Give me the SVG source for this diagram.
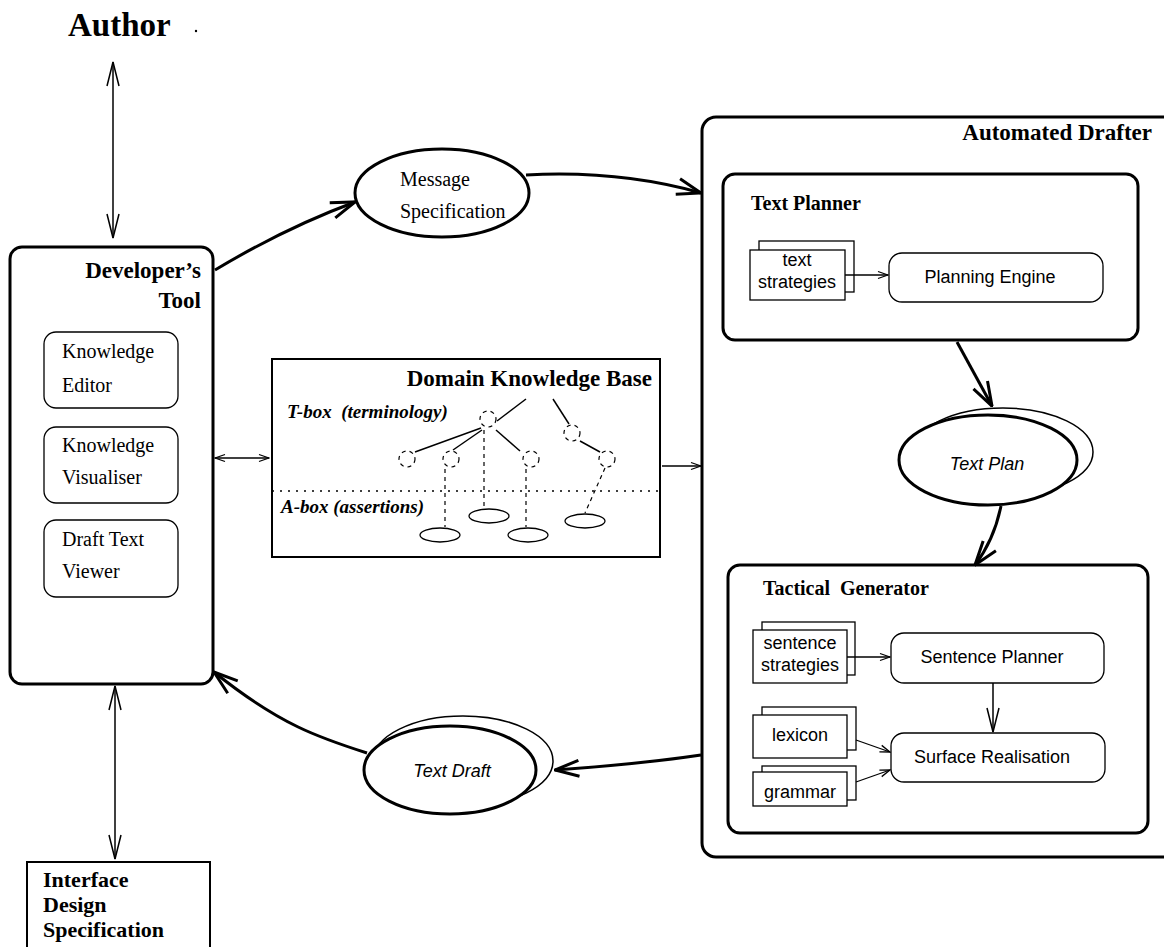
<svg xmlns="http://www.w3.org/2000/svg" width="1164" height="947" viewBox="0 0 1164 947">
<style>
.bg{fill:#fff}
.box{fill:#fff;stroke:#000;stroke-width:3}
.thin{fill:#fff;stroke:#000;stroke-width:1.3}
.mid{fill:#fff;stroke:#000;stroke-width:2}
.serif{font-family:"Liberation Serif","Times New Roman",serif;fill:#000}
.sans{font-family:"Liberation Sans",Arial,sans-serif;fill:#000}
.b{font-weight:bold}
.i{font-style:italic}
.conn{fill:none;stroke:#000}
.heavy{stroke-width:3}
.light{stroke-width:1.3}
.dash{fill:none;stroke:#000;stroke-width:1.2;stroke-dasharray:4,4}
.solid{fill:none;stroke:#000;stroke-width:1.5}
</style>
<defs>
<marker id="vbig" viewBox="0 0 26 20" refX="25" refY="10" markerWidth="26" markerHeight="20" markerUnits="userSpaceOnUse" orient="auto-start-reverse">
<path d="M1,2 L25,10 L1,18" fill="none" stroke="#000" stroke-width="3"/>
</marker>
<marker id="vmed" viewBox="0 0 26 14" refX="25" refY="7" markerWidth="26" markerHeight="14" markerUnits="userSpaceOnUse" orient="auto-start-reverse">
<path d="M1,1 L25,7 L1,13" fill="none" stroke="#000" stroke-width="1.5"/>
</marker>
<marker id="vsmall" viewBox="0 0 12 10" refX="11" refY="5" markerWidth="12" markerHeight="10" markerUnits="userSpaceOnUse" orient="auto-start-reverse">
<path d="M1,1.5 L11,5 L1,8.5" fill="none" stroke="#000" stroke-width="1.3"/>
</marker>
</defs>
<rect class="bg" x="0" y="0" width="1164" height="947"/>

<g id="author">
<text class="serif b" x="68" y="36" font-size="33">Author</text>
<circle cx="196" cy="31" r="1.2" fill="#000"/>
</g>

<g id="developers-tool">
<rect class="box" x="10" y="247" width="203" height="437" rx="12"/>
<text class="serif b" x="201" y="278" font-size="23" text-anchor="end">Developer’s</text>
<text class="serif b" x="201" y="308" font-size="23" text-anchor="end">Tool</text>
</g>
<g id="knowledge-editor">
<rect class="thin" x="44" y="332" width="134" height="76" rx="12"/>
<text class="serif" x="62" y="358" font-size="20">Knowledge</text>
<text class="serif" x="62" y="392" font-size="20">Editor</text>
</g>
<g id="knowledge-visualiser">
<rect class="thin" x="44" y="427" width="134" height="76" rx="12"/>
<text class="serif" x="62" y="452" font-size="20">Knowledge</text>
<text class="serif" x="62" y="484" font-size="20">Visualiser</text>
</g>
<g id="draft-text-viewer">
<rect class="thin" x="44" y="520" width="134" height="77" rx="12"/>
<text class="serif" x="62" y="546" font-size="20">Draft Text</text>
<text class="serif" x="62" y="578" font-size="20">Viewer</text>
</g>

<g id="interface-design-spec">
<rect class="mid" x="27" y="862" width="183" height="110" stroke-width="1.5"/>
<text class="serif b" x="43" y="887" font-size="22">Interface</text>
<text class="serif b" x="43" y="912" font-size="22">Design</text>
<text class="serif b" x="43" y="937" font-size="22">Specification</text>
</g>

<g id="message-specification">
<ellipse class="box" cx="442" cy="193" rx="87" ry="44" stroke-width="2.5"/>
<text class="serif" x="400" y="186" font-size="20">Message</text>
<text class="serif" x="400" y="218" font-size="20">Specification</text>
</g>

<g id="domain-knowledge-base">
<rect class="mid" x="272" y="359" width="388" height="198"/>
<text class="serif b" x="652" y="386" font-size="23" text-anchor="end">Domain Knowledge Base</text>
<text class="serif b i" x="287" y="418" font-size="19" style="white-space:pre">T-box  (terminology)</text>
<line x1="272" y1="491" x2="660" y2="491" stroke="#000" stroke-width="1.3" stroke-dasharray="2,6"/>
<text class="serif b i" x="281" y="513" font-size="19">A-box (assertions)</text>
<!-- tree -->
<line class="solid" x1="497" y1="421" x2="526" y2="399"/>
<line class="solid" x1="553" y1="399" x2="569" y2="424"/>
<line class="solid" x1="481" y1="428" x2="415" y2="452"/>
<line class="solid" x1="482" y1="430" x2="453" y2="450"/>
<line class="solid" x1="496" y1="430" x2="520" y2="451"/>
<line class="solid" x1="580" y1="441" x2="600" y2="452"/>
<ellipse class="dash" cx="488" cy="419" rx="8" ry="8"/>
<ellipse class="dash" cx="572" cy="433" rx="8" ry="8"/>
<ellipse class="dash" cx="407" cy="459" rx="8" ry="8"/>
<ellipse class="dash" cx="451" cy="459" rx="8" ry="8"/>
<ellipse class="dash" cx="531" cy="459" rx="8" ry="8"/>
<ellipse class="dash" cx="607" cy="459" rx="8" ry="8"/>
<line class="dash" x1="484" y1="430" x2="484" y2="509"/>
<line class="dash" x1="445" y1="469" x2="445" y2="527"/>
<line class="dash" x1="526" y1="469" x2="526" y2="527"/>
<line class="dash" x1="605" y1="468" x2="585" y2="513"/>
<ellipse class="thin" cx="489" cy="516" rx="20" ry="7"/>
<ellipse class="thin" cx="440" cy="535" rx="20" ry="7"/>
<ellipse class="thin" cx="528" cy="535" rx="20" ry="7"/>
<ellipse class="thin" cx="585" cy="521" rx="20" ry="7"/>
</g>

<g id="automated-drafter">
<rect class="box" x="702" y="117" width="480" height="740" rx="14"/>
<text class="serif b" x="1152" y="140" font-size="23" text-anchor="end">Automated Drafter</text>
</g>

<g id="text-planner">
<rect class="box" x="723" y="174" width="415" height="166" rx="12"/>
<text class="serif b" x="751" y="210" font-size="20">Text Planner</text>
</g>
<g id="text-strategies">
<rect class="thin" x="759" y="241" width="95" height="51"/>
<rect class="thin" x="750" y="250" width="95" height="50"/>
<text class="sans" x="797" y="266" font-size="18" text-anchor="middle">text</text>
<text class="sans" x="797" y="288" font-size="18" text-anchor="middle">strategies</text>
</g>
<g id="planning-engine">
<rect class="thin" x="889" y="253" width="214" height="49" rx="13"/>
<text class="sans" x="990" y="283" font-size="18" text-anchor="middle">Planning Engine</text>
</g>

<g id="text-plan">
<ellipse cx="1003" cy="452" rx="90" ry="44" fill="none" stroke="#000" stroke-width="1.5"/>
<ellipse class="box" cx="988" cy="460" rx="89" ry="45"/>
<text class="sans i" x="987" y="470" font-size="18" text-anchor="middle">Text Plan</text>
</g>

<g id="tactical-generator">
<rect class="box" x="728" y="565" width="420" height="268" rx="12"/>
<text class="serif b" x="763" y="595" font-size="20" style="white-space:pre">Tactical  Generator</text>
</g>
<g id="sentence-strategies">
<rect class="thin" x="762" y="622" width="93" height="53"/>
<rect class="thin" x="753" y="630" width="94" height="53"/>
<text class="sans" x="800" y="649" font-size="18" text-anchor="middle">sentence</text>
<text class="sans" x="800" y="671" font-size="18" text-anchor="middle">strategies</text>
</g>
<g id="sentence-planner">
<rect class="thin" x="891" y="633" width="213" height="50" rx="13"/>
<text class="sans" x="992" y="663" font-size="18" text-anchor="middle">Sentence Planner</text>
</g>
<g id="lexicon">
<rect class="thin" x="762" y="707" width="94" height="43"/>
<rect class="thin" x="753" y="715" width="94" height="43"/>
<text class="sans" x="800" y="741" font-size="18" text-anchor="middle">lexicon</text>
</g>
<g id="grammar">
<rect class="thin" x="762" y="766" width="94" height="34"/>
<rect class="thin" x="753" y="772" width="94" height="34"/>
<text class="sans" x="800" y="798" font-size="18" text-anchor="middle">grammar</text>
</g>
<g id="surface-realisation">
<rect class="thin" x="891" y="733" width="214" height="49" rx="13"/>
<text class="sans" x="992" y="763" font-size="18" text-anchor="middle">Surface Realisation</text>
</g>

<g id="text-draft">
<ellipse cx="463" cy="761" rx="90" ry="45" fill="none" stroke="#000" stroke-width="1.5"/>
<ellipse class="box" cx="450" cy="770" rx="86" ry="44"/>
<text class="sans i" x="452" y="777" font-size="18" text-anchor="middle">Text Draft</text>
</g>

<g id="connectors">
<line class="conn" stroke-width="1.5" x1="113" y1="62" x2="113" y2="238" marker-start="url(#vmed)" marker-end="url(#vmed)"/>
<line class="conn" stroke-width="1.5" x1="115" y1="686" x2="115" y2="859" marker-start="url(#vmed)" marker-end="url(#vmed)"/>
<line class="conn light" x1="215" y1="458" x2="269" y2="458" marker-start="url(#vsmall)" marker-end="url(#vsmall)"/>
<line class="conn light" x1="662" y1="466" x2="701" y2="466" marker-end="url(#vsmall)"/>
<path class="conn heavy" d="M215,270 Q285,228 355,202" marker-end="url(#vbig)"/>
<path class="conn heavy" d="M526,175 Q620,170 701,193" marker-end="url(#vbig)"/>
<path class="conn heavy" d="M957,342 L992,406" marker-end="url(#vbig)"/>
<path class="conn heavy" d="M1001,506 Q994,540 975,565" marker-end="url(#vbig)"/>
<path class="conn heavy" d="M701,755 Q640,764 555,770" marker-end="url(#vbig)"/>
<path class="conn heavy" d="M367,753 C320,738 280,725 214,672" marker-end="url(#vbig)"/>
<line class="conn light" x1="845" y1="275" x2="888" y2="275" marker-end="url(#vsmall)"/>
<line class="conn light" x1="847" y1="657" x2="890" y2="657" marker-end="url(#vsmall)"/>
<line class="conn" stroke-width="1.5" x1="993" y1="683" x2="993" y2="732" marker-end="url(#vmed)"/>
<line class="conn light" x1="856" y1="740" x2="890" y2="752" marker-end="url(#vsmall)"/>
<line class="conn light" x1="856" y1="782" x2="890" y2="770" marker-end="url(#vsmall)"/>
</g>
</svg>
